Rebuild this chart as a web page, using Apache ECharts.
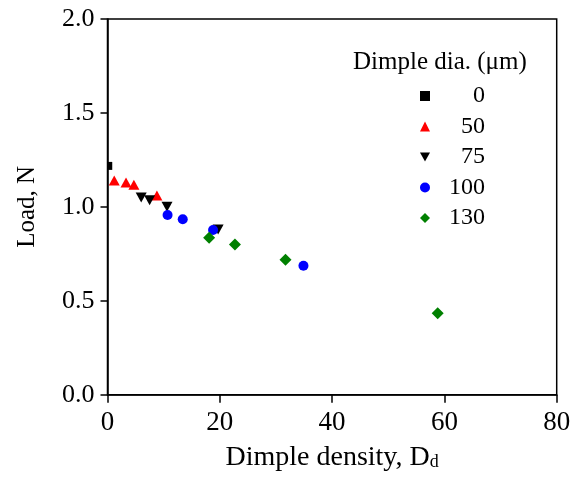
<!DOCTYPE html>
<html>
<head>
<meta charset="utf-8">
<script src="https://cdn.jsdelivr.net/npm/echarts@6/dist/echarts.min.js"></script>
<style>html,body{margin:0;padding:0;background:#fff}#c{width:581px;height:477px}</style>
</head>
<body>
<div id="c"></div>
<script>
// Data
const legendNames = ['0', '50', '75', '100', '130'];
const x0 = [0.4];
const y0 = [1.218];
const x50 = [1.2, 3.3, 4.7, 8.8];
const y50 = [1.14, 1.13, 1.117, 1.06];
const x75 = [6.0, 7.5, 10.6, 19.7];
const y75 = [1.05, 1.035, 1.0, 0.88];
const x100 = [10.7, 13.4, 18.8, 34.9];
const y100 = [0.957, 0.934, 0.877, 0.686];
const x130 = [18.1, 22.7, 31.7, 58.8];
const y130 = [0.835, 0.80, 0.718, 0.434];
const xTicks = [0, 20, 40, 60, 80];
const yTicks = [0.0, 0.5, 1.0, 1.5, 2.0];

const FONT = 'Liberation Serif';
const zip = (xs, ys) => xs.map((x, i) => [x, ys[i]]);

const chart = echarts.init(document.getElementById('c'), null, {renderer: 'canvas'});
const DOWN_TRI = 'path://M0,0 L10,0 L5,9 Z';

function mk(name, xs, ys, symbol, size, color) {
  return {
    name: name, type: 'scatter', data: zip(xs, ys),
    symbol: symbol, symbolSize: size,
    itemStyle: {color: color, opacity: 1},
    clip: false, z: 3
  };
}

chart.setOption({
  animation: false,
  backgroundColor: '#fff',
  title: {
    text: 'Dimple dia. (\u03bcm)',
    left: 353, top: 49, padding: 0,
    textStyle: {fontFamily: FONT, fontSize: 25, fontWeight: 'normal', color: '#000', lineHeight: 26}
  },
  legend: {
    orient: 'vertical',
    left: 415, top: 79,
    itemWidth: 10, itemHeight: 10, itemGap: 6.5,
    data: legendNames,
    formatter: n => '{a|' + n + '}',
    textStyle: {
      fontFamily: FONT, fontSize: 24, color: '#000', lineHeight: 24,
      rich: {a: {fontFamily: FONT, fontSize: 24, width: 50, align: 'right', lineHeight: 24}}
    }
  },
  grid: {
    left: 107.5, right: 24.3, top: 19, bottom: 82.3,
    show: true, borderColor: '#000', borderWidth: 1.5, backgroundColor: 'transparent'
  },
  xAxis: {
    type: 'value', min: xTicks[0], max: xTicks[xTicks.length - 1], interval: 20,
    name: 'Dimple density, D{sub|d}',
    nameLocation: 'middle', nameGap: 49,
    nameTextStyle: {
      fontFamily: FONT, fontSize: 28, color: '#000',
      rich: {sub: {fontFamily: FONT, fontSize: 18, color: '#000', verticalAlign: 'bottom'}}
    },
    axisLine: {show: true, lineStyle: {color: '#000', width: 1.5}},
    axisTick: {show: true, inside: false, length: 8, lineStyle: {color: '#000', width: 1.5}},
    axisLabel: {fontFamily: FONT, fontSize: 27, color: '#000', margin: 15},
    splitLine: {show: false}
  },
  yAxis: {
    type: 'value', min: yTicks[0], max: yTicks[yTicks.length - 1], interval: 0.5,
    name: 'Load, N',
    nameLocation: 'middle', nameGap: 68,
    nameTextStyle: {fontFamily: FONT, fontSize: 25, color: '#000'},
    axisLine: {show: true, lineStyle: {color: '#000', width: 1.5}},
    axisTick: {show: true, inside: false, length: 7, lineStyle: {color: '#000', width: 1.5}},
    axisLabel: {fontFamily: FONT, fontSize: 26, color: '#000', margin: 13, formatter: v => v.toFixed(1)},
    splitLine: {show: false}
  },
  series: [
    mk(legendNames[0], x0, y0, 'rect', [5, 8], '#000000'),
    mk(legendNames[1], x50, y50, 'triangle', [11, 10], '#ff0000'),
    mk(legendNames[2], x75, y75, DOWN_TRI, [11, 10], '#000000'),
    mk(legendNames[3], x100, y100, 'circle', 10, '#0000ff'),
    mk(legendNames[4], x130, y130, 'diamond', 12, '#008000')
  ]
});
</script>
</body>
</html>
